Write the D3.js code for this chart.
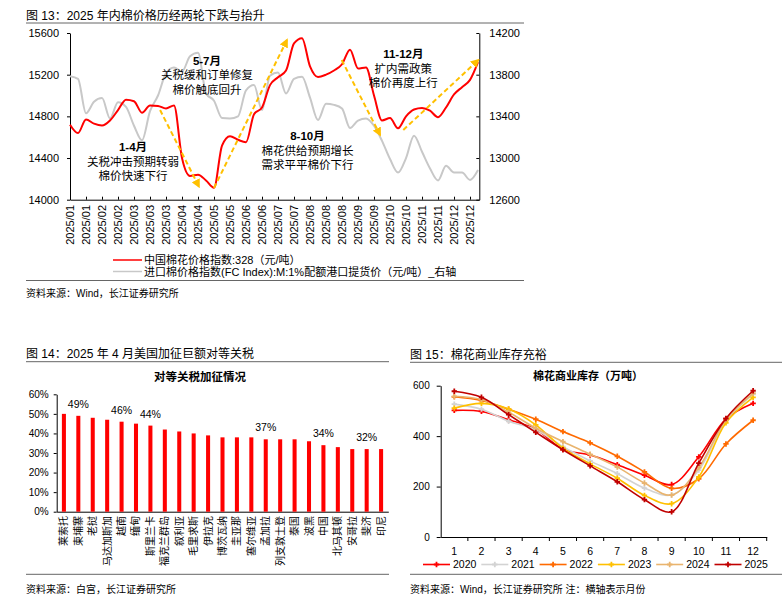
<!DOCTYPE html>
<html>
<head>
<meta charset="utf-8">
<script src="https://cdn.jsdelivr.net/npm/d3@7"></script>
<style>
body{margin:0;background:#fff;}
svg text{font-family:"Liberation Sans","Noto Sans CJK SC",sans-serif;fill:#000;}
</style>
</head>
<body>
<svg id="chart" width="782" height="602"></svg>
<script>
// ---- data: figure 13 (cotton price indices, one value every half label step) ----
var xLabels = ["2025/01","2025/01","2025/02","2025/02","2025/03","2025/03","2025/03","2025/04","2025/04",
  "2025/05","2025/05","2025/06","2025/06","2025/07","2025/07","2025/08","2025/08","2025/08","2025/09",
  "2025/09","2025/10","2025/10","2025/11","2025/11","2025/12","2025/12"];
var cnIndex = [14720,14640,14770,14730,14712,14760,14860,14960,14945,14835,14905,14900,14875,14905,
  14400,14228,14240,14185,14115,14520,14610,14575,14552,14820,14885,15100,15175,15240,15500,15550,
  15280,15178,15200,15240,15300,15440,15260,15270,15000,14760,14784,14685,14800,14866,14880,14854,
  14792,14885,15010,15080,15150,15320];
var fcIndex = [13785,13760,13430,13540,13575,13380,13535,13490,13310,13170,13450,13600,13815,13870,
  13830,13976,14010,13620,13550,13384,13380,13400,13650,13700,13460,13790,13820,13620,13760,13780,
  13580,13365,13520,13510,13475,13288,13360,13380,13310,13165,12990,12860,13000,13215,13060,12900,
  12785,12925,12860,12860,12790,12885];
var leftTicks = [14000,14400,14800,15200,15600];
var rightTicks = [12600,13000,13400,13800,14200];
// annotation arrows: [from label pos, from value, to label pos, to value] (left axis units)
var arrows = [[5.63,14861,8.06,14125],[9.0,14112,13.56,15533],[16.98,15341,19.38,14621],[20.83,14669,25.52,15341]];
var notes = [
  {t:3.94, v:14467, lines:["1-4月","关税冲击预期转弱","棉价快速下行"]},
  {t:8.56, v:15293, lines:["5-7月","关税缓和订单修复","棉价触底回升"]},
  {t:14.84, v:14573, lines:["8-10月","棉花供给预期增长","需求平平棉价下行"]},
  {t:20.83, v:15360, lines:["11-12月","扩内需政策","棉价再度上行"]}
];

// ---- data: figure 14 (reciprocal tariffs) ----
var countries = ["莱索托","柬埔寨","老挝","马达加斯加","越南","缅甸","斯里兰卡","福克兰群岛","叙利亚","毛里求斯",
  "伊拉克","博茨瓦纳","圭亚那","塞尔维亚","孟加拉","列支敦士登","泰国","波黑","中国","北马其顿","安哥拉","斐济","印尼"];
var tariffs = [0.50,0.49,0.48,0.47,0.46,0.45,0.44,0.42,0.41,0.40,0.39,0.38,0.38,0.38,0.37,0.37,0.37,0.36,0.34,0.33,0.32,0.32,0.32];
var labelled = ["柬埔寨","越南","斯里兰卡","孟加拉","中国","斐济"];
var tariffTicks = [0,0.1,0.2,0.3,0.4,0.5,0.6];

// ---- data: figure 15 (commercial cotton stocks, 10k t) ----
var months = [1,2,3,4,5,6,7,8,9,10,11,12];
var years = ["2020","2021","2022","2023","2024","2025"];
var s2020 = [502,498,465,427,348,325,287,245,208,318,468,530];
var s2021 = [527,507,459,425,358,302,251,194,167,265,462,566];
var s2022 = [556,541,507,467,418,373,320,258,193,231,369,463];
var s2023 = [511,530,508,445,352,290,233,165,132,238,453,554];
var s2024 = [558,545,495,431,378,328,277,214,166,275,465,570];
var s2025 = [578,554,485,415,346,282,219,148,100,293,470,580];
var stockTicks = [0,200,400,600];
var yearColors = ["#FF0000","#D3D3D3","#FF6A00","#FFC000","#E9B46E","#C00000"];

var svg = d3.select("#chart");

function sepLine(x1, x2, y, col) {
  svg.append("line").attr("x1", x1).attr("x2", x2).attr("y1", y).attr("y2", y)
     .style("stroke", col || "#666").style("stroke-width", 1);
}

// ================= figure 13 =================
svg.append("text").attr("x", 26).attr("y", 19.5).style("font-size", "12px")
   .text("图 13：2025 年内棉价格历经两轮下跌与抬升");
sepLine(26, 524, 23);

var xTop = d3.scaleLinear().domain([0, 25.58]).range([70, 479.3]);
var yL = d3.scaleLinear().domain([14000, 15600]).range([199.7, 33]);
var yR = d3.scaleLinear().domain([12600, 14200]).range([199.7, 33]);

var top13 = svg.append("g");

top13.append("g").attr("transform", "translate(70,0)")
  .call(d3.axisLeft(yL).tickValues(leftTicks).tickFormat(d3.format("d")).tickSizeInner(3).tickSizeOuter(0).tickPadding(8))
  .call(g => g.selectAll("text").style("font-size", "11px").attr("fill", "#000"));
top13.append("g").attr("transform", "translate(479.3,0)")
  .call(d3.axisRight(yR).tickValues(rightTicks).tickFormat(d3.format("d")).tickSizeInner(-3).tickSizeOuter(0).tickPadding(10))
  .call(g => g.selectAll("text").style("font-size", "11px").attr("fill", "#000"));
top13.append("g").attr("transform", "translate(0,199.7)")
  .call(d3.axisBottom(xTop).tickValues(d3.range(xLabels.length)).tickFormat("").tickSizeInner(-3).tickSizeOuter(0));
top13.selectAll(".domain, .tick line").style("stroke", "#000");

top13.selectAll(".xlab").data(xLabels).join("text")
  .attr("class", "xlab")
  .attr("transform", (d, i) => "translate(" + xTop(i) + ",205) rotate(-90)")
  .attr("dy", "0.35em").style("text-anchor", "end").style("font-size", "11px")
  .text(d => d);

var lineL = d3.line().x((d, i) => xTop(i * 0.5)).y(d => yL(d)).curve(d3.curveMonotoneX);
var lineR = d3.line().x((d, i) => xTop(i * 0.5)).y(d => yR(d)).curve(d3.curveMonotoneX);

top13.append("path").datum(fcIndex).attr("d", lineR)
  .style("fill", "none").style("stroke", "#C8C8C8").style("stroke-width", 2);
top13.append("path").datum(cnIndex).attr("d", lineL)
  .style("fill", "none").style("stroke", "#FF0000").style("stroke-width", 2);

svg.append("defs").append("marker")
  .attr("id", "tip").attr("viewBox", "0 0 10 10").attr("refX", 8).attr("refY", 5)
  .attr("markerWidth", 9).attr("markerHeight", 9).attr("markerUnits", "userSpaceOnUse")
  .attr("orient", "auto")
  .append("path").attr("d", "M0,0L10,5L0,10Z").style("fill", "#FFC000");

top13.selectAll(".arrow").data(arrows).join("line")
  .attr("class", "arrow")
  .attr("x1", d => xTop(d[0])).attr("y1", d => yL(d[1]))
  .attr("x2", d => xTop(d[2])).attr("y2", d => yL(d[3]))
  .style("stroke", "#FFC000").style("stroke-width", 2).style("stroke-dasharray", "5,3")
  .attr("marker-end", "url(#tip)");

notes.forEach(function(n) {
  var t = top13.append("text").style("text-anchor", "middle").style("font-size", "11.5px");
  n.lines.forEach(function(s, j) {
    t.append("tspan").attr("x", xTop(n.t)).attr("y", yL(n.v) + j * 14.5)
     .style("font-weight", j === 0 ? "bold" : "normal").text(s);
  });
});

// legend
var leg13 = [["#FF0000", "中国棉花价格指数:328（元/吨）"],
             ["#C8C8C8", "进口棉价格指数(FC Index):M:1%配额港口提货价（元/吨）_右轴"]];
leg13.forEach(function(l, i) {
  var y = 260 + i * 11.5;
  svg.append("line").attr("x1", 113).attr("x2", 142).attr("y1", y).attr("y2", y)
     .style("stroke", l[0]).style("stroke-width", 1.5);
  svg.append("text").attr("x", 144).attr("y", y + 4).style("font-size", "11px").text(l[1]);
});
sepLine(26, 524, 280.5);
svg.append("text").attr("x", 26).attr("y", 297).style("font-size", "10px").attr("fill", "#222")
   .text("资料来源：Wind，长江证券研究所");

// ================= figure 14 =================
svg.append("text").attr("x", 26).attr("y", 358).style("font-size", "12px")
   .text("图 14：2025 年 4 月美国加征巨额对等关税");
sepLine(26, 389, 361.7);
svg.append("text").attr("x", 200).attr("y", 381).style("text-anchor", "middle")
   .style("font-size", "11.5px").style("font-weight", "bold").text("对等关税加征情况");

var xB = d3.scaleBand().domain(countries).range([56.7, 388.3]).paddingInner(0.72).paddingOuter(0.36);
var yB = d3.scaleLinear().domain([0, 0.6]).range([511.7, 394.3]);

var bar14 = svg.append("g");
bar14.append("g").attr("transform", "translate(56.7,0)")
  .call(d3.axisLeft(yB).tickValues(tariffTicks).tickFormat(d3.format(".0%")).tickSizeInner(3).tickSizeOuter(0).tickPadding(5))
  .call(g => g.selectAll("text").style("font-size", "10px").attr("fill", "#000"));
bar14.append("g").attr("transform", "translate(0,511.7)")
  .call(d3.axisBottom(xB).tickSize(0).tickFormat(""));
bar14.selectAll(".domain, .tick line").style("stroke", "#000");

bar14.selectAll(".bar").data(countries).join("rect")
  .attr("class", "bar")
  .attr("x", d => xB(d)).attr("width", xB.bandwidth())
  .attr("y", (d, i) => yB(tariffs[i])).attr("height", (d, i) => yB(0) - yB(tariffs[i]))
  .style("fill", "#FF0000");

bar14.selectAll(".vlab").data(countries.filter(c => labelled.indexOf(c) >= 0)).join("text")
  .attr("class", "vlab")
  .attr("x", d => xB(d) + xB.bandwidth() / 2)
  .attr("y", d => yB(tariffs[countries.indexOf(d)]) - 8)
  .style("text-anchor", "middle").style("font-size", "10.5px")
  .text(d => d3.format(".0%")(tariffs[countries.indexOf(d)]));

bar14.selectAll(".clab").data(countries).join("text")
  .attr("class", "clab")
  .attr("transform", d => "translate(" + (xB(d) + xB.bandwidth() / 2) + ",516) rotate(-90)")
  .attr("dy", "0.35em").style("text-anchor", "end").style("font-size", "10px")
  .text(d => d);

sepLine(26, 389, 574.3);
svg.append("text").attr("x", 26).attr("y", 593).style("font-size", "10px").attr("fill", "#222")
   .text("资料来源：白宫，长江证券研究所");

// ================= figure 15 =================
svg.append("text").attr("x", 410).attr("y", 358.5).style("font-size", "12px")
   .text("图 15：棉花商业库存充裕");
sepLine(410, 782, 362.3);
svg.append("text").attr("x", 588).attr("y", 380).style("text-anchor", "middle")
   .style("font-size", "11px").style("font-weight", "bold").text("棉花商业库存（万吨）");

var xS = d3.scaleBand().domain(months).range([440.7, 766.7]);
var yS = d3.scaleLinear().domain([0, 600]).range([537, 385.7]);

var st15 = svg.append("g");
st15.append("g").attr("transform", "translate(440.7,0)")
  .call(d3.axisLeft(yS).tickValues(stockTicks).tickSizeInner(4).tickSizeOuter(0).tickPadding(7))
  .call(g => g.selectAll("text").style("font-size", "10px").attr("fill", "#000"));
st15.append("g").attr("transform", "translate(0,537)")
  .call(d3.axisBottom(xS).tickSize(0).tickPadding(11))
  .call(g => g.selectAll("text").style("font-size", "10.5px").attr("fill", "#000"));
st15.selectAll(".mtick").data(months.slice(1).concat([13])).join("line")
  .attr("class", "mtick")
  .attr("x1", d => d === 13 ? xS(12) + xS.bandwidth() : xS(d)).attr("x2", d => d === 13 ? xS(12) + xS.bandwidth() : xS(d))
  .attr("y1", 537).attr("y2", 541).style("stroke", "#000");
st15.selectAll(".domain, .tick line").style("stroke", "#000");

var stockSeries = [s2020, s2021, s2022, s2023, s2024, s2025];
var lineS = d3.line().x((d, i) => xS(months[i]) + xS.bandwidth() / 2).y(d => yS(d))
  .curve(d3.curveCatmullRom.alpha(0.5));
var sym = d3.symbol().type(d3.symbolCross).size(16);

stockSeries.forEach(function(s, k) {
  st15.append("path").datum(s).attr("d", lineS)
    .style("fill", "none").style("stroke", yearColors[k]).style("stroke-width", 1.6);
  st15.selectAll(".m" + k).data(s).join("path")
    .attr("class", "m" + k).attr("d", sym)
    .attr("transform", (d, i) => "translate(" + (xS(months[i]) + xS.bandwidth() / 2) + "," + yS(d) + ")")
    .style("fill", yearColors[k]);
});

years.forEach(function(y, k) {
  var x0 = 423 + k * 58.3;
  svg.append("line").attr("x1", x0).attr("x2", x0 + 27).attr("y1", 564.5).attr("y2", 564.5)
     .style("stroke", yearColors[k]).style("stroke-width", 1.6);
  svg.append("path").attr("d", sym).attr("transform", "translate(" + (x0 + 13.5) + ",564.5)")
     .style("fill", yearColors[k]);
  svg.append("text").attr("x", x0 + 30).attr("y", 568.3).style("font-size", "10.5px").text(y);
});

sepLine(410, 782, 574.3);
svg.append("text").attr("x", 410).attr("y", 593).style("font-size", "10px").attr("fill", "#222")
   .text("资料来源：Wind，长江证券研究所  注：横轴表示月份");
</script>
</body>
</html>
